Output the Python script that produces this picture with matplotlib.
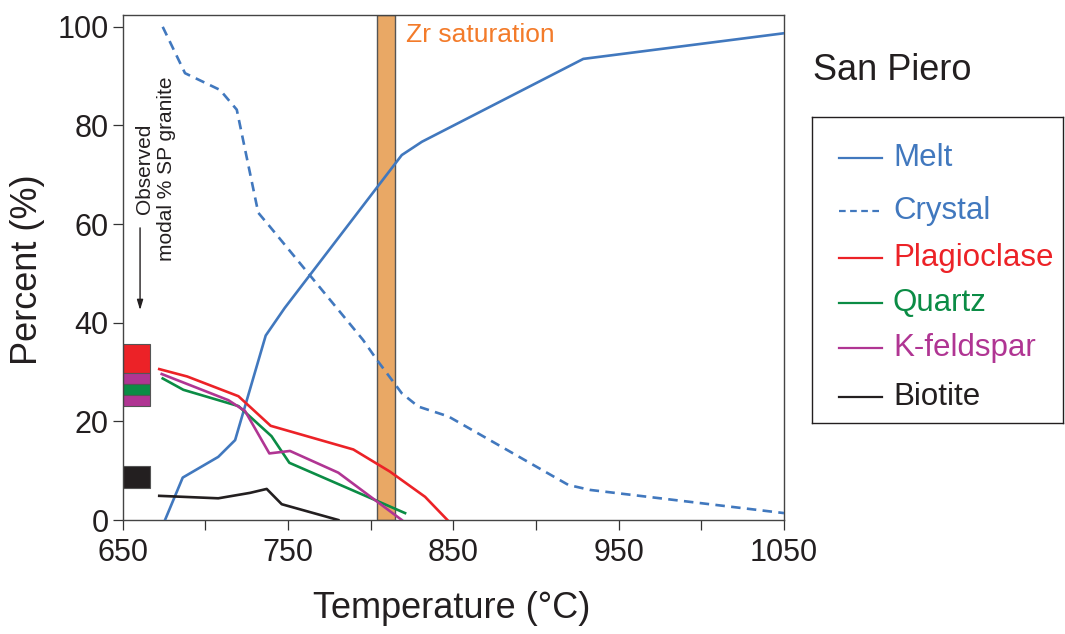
import matplotlib
matplotlib.use("Agg")
import matplotlib.pyplot as plt
from matplotlib.lines import Line2D

plt.rcParams['font.family'] = ['Liberation Sans', 'DejaVu Sans']

# modelled phase proportions vs temperature (San Piero)
melt_T = [675.6, 686.3, 707.8, 718.0, 736.5, 748.0, 818.8, 831.0, 928.6, 1050.0]
melt_v = [0.0, 8.6, 12.8, 16.2, 37.4, 43.0, 74.0, 76.7, 93.5, 98.7]

crystal_T = [674.2, 687.7, 708.9, 719.0, 732.0, 739.0, 795.4, 803.7, 818.8, 828.8, 847.0, 919.6, 932.7, 1050.0]
crystal_v = [100.0, 90.6, 87.2, 83.2, 62.3, 59.5, 36.5, 32.5, 25.7, 23.0, 21.0, 7.1, 6.1, 1.4]

plag_T = [672.1, 689.0, 720.0, 739.5, 789.5, 811.7, 832.9, 846.4]
plag_v = [30.6, 29.1, 25.1, 19.1, 14.3, 9.8, 4.7, 0.0]

qtz_T = [674.2, 686.7, 696.8, 720.0, 740.0, 750.8, 820.8]
qtz_v = [28.7, 26.4, 25.4, 23.1, 17.0, 11.6, 1.4]

kfs_T = [673.6, 713.9, 724.0, 738.7, 751.2, 780.4, 818.8]
kfs_v = [29.6, 24.3, 22.1, 13.5, 14.0, 9.6, 0.0]

bt_T = [672.1, 707.8, 727.0, 737.1, 746.2, 780.4]
bt_v = [4.9, 4.4, 5.5, 6.3, 3.2, 0.0]

# observed modal % in SP granite (bottom, top of each box)
obs_bottom = [29.8, 27.5, 25.4, 23.1, 6.4]
obs_top = [35.6, 29.8, 27.5, 25.4, 11.0]

zr_sat = (804, 815)

c_blue = '#4178BE'
c_red = '#EC2227'
c_green = '#0B8C45'
c_mag = '#B03593'
c_blk = '#231F20'
obs_colors = [c_red, c_mag, c_green, c_mag, c_blk]

fig = plt.figure(figsize=(10.65, 6.34), dpi=100)
ax = fig.add_axes([122.7 / 1065, 1 - 520 / 634, (784 - 122.7) / 1065, (520 - 15) / 634])

ax.axvspan(*zr_sat, facecolor='#E9A865', edgecolor='#555555', lw=1.0, zorder=1)
ax.text(821.4, 98.3, 'Zr saturation', color='#F37B2A', fontsize=19, ha='left', va='center')

lw = 1.9
series = [
    ('Melt', melt_T, melt_v, c_blue, '-'),
    ('Crystal', crystal_T, crystal_v, c_blue, '--'),
    ('Plagioclase', plag_T, plag_v, c_red, '-'),
    ('Quartz', qtz_T, qtz_v, c_green, '-'),
    ('K-feldspar', kfs_T, kfs_v, c_mag, '-'),
    ('Biotite', bt_T, bt_v, c_blk, '-'),
]
for name, T, v, col, ls in series:
    line, = ax.plot(T, v, color=col, lw=lw, ls=ls, zorder=3)
    if ls == '--':
        line.set_dashes((3.6, 2.4))

heights = [t - b for t, b in zip(obs_top, obs_bottom)]
ax.bar([650] * len(heights), heights, bottom=obs_bottom, width=16.5, align='edge',
       color=obs_colors, edgecolor='#555555', linewidth=0.8, zorder=2)

ax.text(669.6, 71.2, 'Observed\nmodal % SP granite', rotation=90, fontsize=15,
        ha='center', va='center', multialignment='center', color='#231F20')
ax.annotate('', xy=(660.5, 42.0), xytext=(660.5, 59.8),
            arrowprops=dict(arrowstyle='-|>,head_length=0.6,head_width=0.18',
                            color='#231F20', lw=1.0))

ax.set_xlim(650, 1050)
ax.set_ylim(0, 102.4)
ax.set_xticks(range(650, 1051, 50))
ax.set_xticklabels([str(t) if (t - 650) % 100 == 0 else '' for t in range(650, 1051, 50)])
ax.set_yticks(range(0, 101, 20))
ax.tick_params(direction='out', length=7, width=0.9, color='#333333', labelsize=22,
               labelcolor='#231F20')
ax.tick_params(axis='x', pad=6)
ax.tick_params(axis='y', pad=3)
for sp in ax.spines.values():
    sp.set_color('#444444')
    sp.set_linewidth(1.0)

fig.text(28 / 1065, 1 - 270 / 634, 'Percent (%)', rotation=90, fontsize=26,
         ha='center', va='center', color='#231F20')
fig.text(452 / 1065, 1 - 609 / 634, 'Temperature (°C)', fontsize=26,
         ha='center', va='center', color='#231F20')
fig.text(813 / 1065, 1 - 80 / 634, 'San Piero', fontsize=26, ha='left',
         va='baseline', color='#231F20')

# legend panel
lx0, lx1, ly0, ly1 = 812, 1063, 117, 423
lax = fig.add_axes([lx0 / 1065, 1 - ly1 / 634, (lx1 - lx0) / 1065, (ly1 - ly0) / 634])
lax.set_xlim(lx0, lx1)
lax.set_ylim(ly1, ly0)
lax.set_xticks([])
lax.set_yticks([])
for sp in lax.spines.values():
    sp.set_color('#231F20')
    sp.set_linewidth(1.0)
entry_y = [158, 210.7, 258, 303, 348, 396.7]
for (name, T, v, col, ls), yy in zip(series, entry_y):
    h = Line2D([839, 882], [yy, yy], color=col, lw=1.6, ls=ls)
    if ls == '--':
        h.set_dashes((3.0, 2.0))
    lax.add_line(h)
    lax.text(893, yy, name, color=col, fontsize=22.5, ha='left', va='center')

fig.savefig('out.png', dpi=100)
